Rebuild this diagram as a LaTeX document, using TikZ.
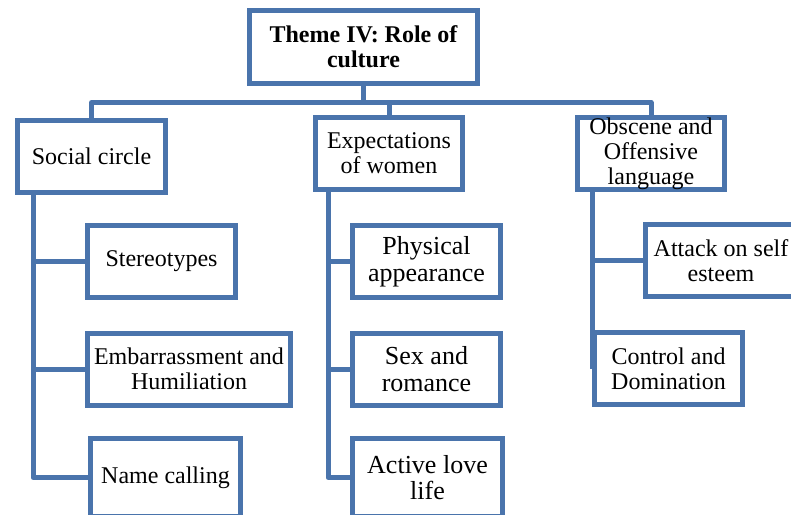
\documentclass[tikz,border=0pt]{standalone}
\usepackage{fontspec}
\setmainfont{Liberation Serif}
\definecolor{boxblue}{HTML}{4A74AC}

\begin{document}
\begin{tikzpicture}[x=.5pt,y=-.5pt,
  box/.style={draw=boxblue,line width=2.5pt,fill=white,align=center,inner sep=0pt,
    minimum height=36pt,font=\fontsize{12}{12.5}\selectfont},
  bigbox/.style={box,font=\fontsize{13}{13.3}\selectfont},
  link/.style={draw=boxblue,line width=2.5pt,line join=round}]
\useasboundingbox (0,0) rectangle (791,514);
\clip (0,0) rectangle (791,514);

\coordinate (lt) at (33,0);
\coordinate (mt) at (328,0);
\coordinate (rt) at (592,0);

\node[box,font=\bfseries\fontsize{12}{12.5}\selectfont,minimum width=114pt,minimum height=36.5pt] (theme) at (363.5,47) {Theme IV: Role of\\culture};

\node[box,minimum width=74pt] (social) at (91.5,156.5) {Social circle};
\node[box,minimum width=73.5pt] (expect) at (389,153.5) {Expectations\\of women};
\node[box,minimum width=73.5pt] (obscene) at (651,153.5) {Obscene and\\Offensive\\language};

\node[box,minimum width=74pt] (stereo) at (161.5,261.5) {Stereotypes};
\node[box,minimum width=101.5pt] (embar) at (189,369) {Embarrassment and\\Humiliation};
\node[box,minimum width=75pt,minimum height=39pt] (naming) at (165.5,477.5) {Name calling};

\node[bigbox,minimum width=74pt] (physical) at (426.5,261.5) {Physical\\appearance};
\node[bigbox,minimum width=74pt] (sex) at (426.5,369) {Sex and\\romance};
\node[bigbox,minimum width=75pt,minimum height=39pt] (active) at (427.5,477.5) {Active love\\life};

\node[box,minimum width=75.5pt] (attack) at (721,260.5) {Attack on self\\esteem};
\node[box,minimum width=74pt] (control) at (668.5,368.5) {Control and\\Domination};

\draw[link] (theme.south) -- ++(0,16.5) coordinate (bus) -| (social.north);
\draw[link] (bus) -| (expect.north);
\draw[link] (bus) -| (obscene.north);

\draw[link] (lt |- social.south) |- (stereo);
\draw[link] (lt |- social.south) |- (embar);
\draw[link] (lt |- social.south) |- (naming);

\draw[link] (mt |- expect.south) |- (physical);
\draw[link] (mt |- expect.south) |- (sex);
\draw[link] (mt |- expect.south) |- (active);

\draw[link] (rt |- obscene.south) |- (attack);
\draw[link] (rt |- obscene.south) |- (control);

\end{tikzpicture}
\end{document}
